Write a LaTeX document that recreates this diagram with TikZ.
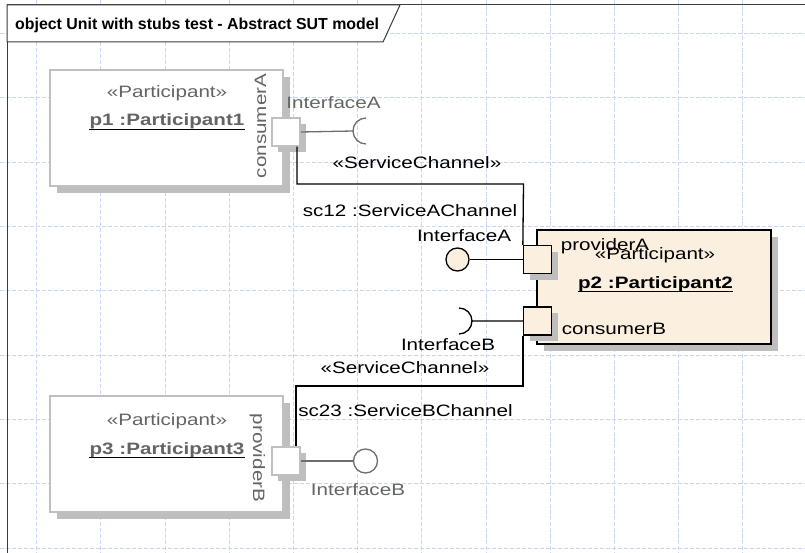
\documentclass[tikz,border=0pt]{standalone}
\usepackage{fontspec}
\setmainfont{Liberation Sans}
\newfontfamily\eafont[FakeStretch=1.25]{Liberation Sans}
\usetikzlibrary{shadows}

\definecolor{gridblue}{RGB}{200,212,248}
\definecolor{ghostgray}{RGB}{192,192,192}
\definecolor{ghosttxt}{RGB}{100,100,100}
\definecolor{ghostln}{RGB}{110,110,110}
\definecolor{shadowgray}{RGB}{190,190,190}
\definecolor{beige}{RGB}{251,239,223}
\definecolor{framegray}{RGB}{60,60,60}

\tikzset{
  gridline/.style={draw=gridblue, line width=0.8pt, dash pattern=on 4pt off 2pt},
  frameline/.style={draw=framegray, line width=1pt},
  txt/.style={inner sep=0pt, text height=12pt, text depth=0pt,
    font=\fontsize{16.5}{18}\selectfont\eafont},
  nametxt/.style={txt, font=\fontsize{16.5}{18}\selectfont\eafont\bfseries},
  ghosttxt/.style={txt, text=ghosttxt},
  ghostname/.style={nametxt, text=ghosttxt},
  boxshadow/.style={drop shadow={shadow xshift=7pt, shadow yshift=-7pt,
    fill=shadowgray, opacity=1}},
  ghostbox/.style={rectangle, draw=ghostgray, line width=1.8pt, fill=white,
    minimum width=233pt, minimum height=116pt, inner sep=0pt, boxshadow},
  partbox/.style={rectangle, draw=black, line width=1.3pt, fill=beige,
    minimum width=234pt, minimum height=114pt, inner sep=0pt, boxshadow},
  portshadow/.style={drop shadow={shadow xshift=6pt, shadow yshift=-6pt,
    fill=shadowgray, opacity=1}},
  ghostport/.style={rectangle, draw=ghostgray, line width=1.5pt, fill=white,
    minimum size=28pt, inner sep=0pt, portshadow},
  partport/.style={rectangle, draw=black, line width=1.3pt, fill=beige,
    minimum size=28pt, inner sep=0pt, portshadow},
  conn/.style={draw=black, line width=1.3pt},
  ghostline/.style={draw=ghostln, line width=1.3pt},
  ball/.style={circle, draw=black, line width=1.3pt, fill=beige,
    minimum size=23pt, inner sep=0pt},
  ghostball/.style={circle, draw=ghostln, line width=1.3pt, fill=white,
    minimum size=24pt, inner sep=0pt},
  uline/.style={line width=1.3pt}
}

\begin{document}
\begin{tikzpicture}[x=1pt,y=-1pt]
\useasboundingbox (0,0) rectangle (805,553);
\clip (0,0) rectangle (805,553);

% background grid
\foreach \i in {0,...,12}
  \draw[gridline] ({36.5+64.2*\i},0) -- ({36.5+64.2*\i},553);
\foreach \j in {0,...,8}
  \draw[gridline] (0,{33.5+64.3*\j}) -- (805,{33.5+64.3*\j});

% diagram frame and title tab
\draw[frameline] (7,560) -- (7,5) -- (810,5);
\filldraw[frameline, fill=white] (7,5) -- (7,42) -- (383,42) -- (400,5) -- cycle;
\node[inner sep=0pt, text height=11pt, text depth=0pt, anchor=west,
  font=\fontsize{15.9}{18}\selectfont\bfseries] (title) at (15,24)
  {object Unit with stubs test - Abstract SUT model};

% participant p1 (greyed)
\node[ghostbox] (p1) at (166.5,128) {};
\node[ghosttxt] (p1st) at (167,92) {«Participant»};
\node[ghostname] (p1nm) at (167,120) {p1 :Participant1};
\draw[uline, ghosttxt] ([yshift=-3pt]p1nm.south west) -- ([yshift=-3pt]p1nm.south east);
\node[ghosttxt, rotate=90] (p1pn) at (260,126) {consumerA};
\node[ghostport] (p1port) at (286,132) {};

% participant p3 (greyed)
\node[ghostbox] (p3) at (166.5,454) {};
\node[ghosttxt] (p3st) at (167,419) {«Participant»};
\node[ghostname] (p3nm) at (167,448) {p3 :Participant3};
\draw[uline, ghosttxt] ([yshift=-3pt]p3nm.south west) -- ([yshift=-3pt]p3nm.south east);
\node[ghosttxt, rotate=-90] (p3pn) at (259,458) {providerB};
\node[ghostport] (p3port) at (286,461) {};

% participant p2
\node[partbox] (p2) at (654,287) {};
\node[txt] (p2st) at (655,253) {«Participant»};
\node[nametxt] (p2nm) at (655.5,282) {p2 :Participant2};
\draw[uline] ([yshift=-3pt]p2nm.south west) -- ([yshift=-3pt]p2nm.south east);
\node[partport] (p2pa) at (537.5,259.5) {};
\node[partport] (p2cb) at (537.5,321) {};
\node[txt] (p2pan) at (605,245) {providerA};
\node[txt] (p2cbn) at (614,328) {consumerB};

% required interface of p1
\coordinate (sockA) at (353,131);
\draw[ghostline] (p1port.east) -- (sockA) arc[start angle=180, end angle=90, radius=13];
\draw[ghostline] (sockA) arc[start angle=180, end angle=270, radius=13];
\node[ghosttxt] (ifA1) at (333.5,103) {InterfaceA};

% provided interface of p3
\node[ghostball] (ballB) at (365.5,461) {};
\draw[ghostline] (p3port.east) -- (ballB.west);
\node[ghosttxt] (ifB3) at (358,489) {InterfaceB};

% provided interface of p2
\node[ball] (ballA) at (457.5,259.5) {};
\draw[conn] (ballA.east) -- (p2pa.west);
\node[txt] (ifA2) at (464,235) {InterfaceA};

% required interface of p2
\coordinate (sockB) at (472,321);
\draw[conn] (p2cb.west) -- (sockB) arc[start angle=0, end angle=-90, radius=13];
\draw[conn] (sockB) arc[start angle=0, end angle=90, radius=13];
\node[txt] (ifB2) at (448,344) {InterfaceB};

% service channel sc12
\coordinate (bendA) at (523.5,184);
\draw[conn] ([xshift=11pt]p1port.south) |- (bendA) -- (p2pa.north west);
\node[txt] (sc12st) at (417,163) {«ServiceChannel»};
\node[txt] (sc12) at (410,211) {sc12 :ServiceAChannel};

% service channel sc23
\coordinate (bendB) at (296,386);
\draw[conn] (p2cb.south west) |- (bendB) -- (bendB |- p3port.north);
\node[txt] (sc23st) at (405,367) {«ServiceChannel»};
\node[txt] (sc23) at (405.5,410) {sc23 :ServiceBChannel};
\end{tikzpicture}
\end{document}
